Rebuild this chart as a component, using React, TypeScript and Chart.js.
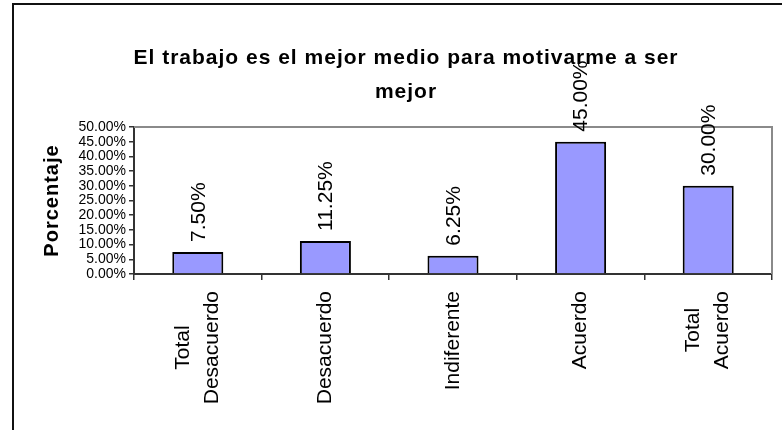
import React, { useEffect, useRef } from "react";
import { Chart, registerables } from "chart.js";

Chart.register(...registerables);

const FONT = '"Liberation Sans", Arial, Helvetica, sans-serif';

const TITLE_LINES = ["El trabajo es el mejor medio para motivarme a ser", "mejor"];
const Y_TITLE = "Porcentaje";
const CATEGORIES: string[][] = [
  ["Total", "Desacuerdo"],
  ["Desacuerdo"],
  ["Indiferente"],
  ["Acuerdo"],
  ["Total", "Acuerdo"],
];
const VALUES = [7.5, 11.25, 6.25, 45, 30];
const Y_MIN = 0;
const Y_MAX = 50;
const Y_STEP = 5;

const fmtPct = (v: number) => v.toFixed(2) + "%";

const decorPlugin = {
  id: "decor",
  beforeDraw(chart: any) {
    const ctx = chart.ctx;
    ctx.save();
    ctx.fillStyle = "#ffffff";
    ctx.fillRect(0, 0, chart.width, chart.height);
    ctx.restore();
  },
  beforeDatasetsDraw(chart: any) {
    const ctx = chart.ctx;
    const { left, right, top, bottom } = chart.chartArea;
    ctx.save();
    ctx.strokeStyle = "#8a8a8a";
    ctx.lineWidth = 2;
    ctx.beginPath();
    ctx.moveTo(left, top);
    ctx.lineTo(right, top);
    ctx.lineTo(right, bottom);
    ctx.stroke();
    ctx.restore();
  },
  afterDatasetsDraw(chart: any) {
    const ctx = chart.ctx;
    const { top, bottom } = chart.chartArea;
    const xScale = chart.scales.x;
    ctx.save();
    // outer frame (top and left edges)
    ctx.strokeStyle = "#111";
    ctx.lineWidth = 2;
    ctx.beginPath();
    ctx.moveTo(13, chart.height);
    ctx.lineTo(13, 4);
    ctx.lineTo(chart.width, 4);
    ctx.stroke();

    ctx.fillStyle = "#000";
    // title
    ctx.font = "bold 21px " + FONT;
    (ctx as any).letterSpacing = "1px";
    ctx.textAlign = "center";
    ctx.textBaseline = "alphabetic";
    ctx.fillText(TITLE_LINES[0], 406, 64);
    ctx.fillText(TITLE_LINES[1], 406, 98);

    // y axis title
    ctx.save();
    ctx.font = "bold 20px " + FONT;
    ctx.translate(52, (top + bottom) / 2);
    ctx.rotate(-Math.PI / 2);
    ctx.textAlign = "center";
    ctx.textBaseline = "middle";
    ctx.fillText(Y_TITLE, 0, 0);
    ctx.restore();
    (ctx as any).letterSpacing = "0px";

    // category labels (rotated, multi-line centred)
    ctx.font = "21px " + FONT;
    const lineH = 29;
    CATEGORIES.forEach((lines, i) => {
      const x = xScale.getPixelForValue(i);
      const w = Math.max(...lines.map((l) => ctx.measureText(l).width));
      ctx.save();
      ctx.translate(x, bottom + 17 + w / 2);
      ctx.rotate(-Math.PI / 2);
      ctx.textAlign = "center";
      ctx.textBaseline = "middle";
      lines.forEach((l, j) => {
        ctx.fillText(l, 0, (j - (lines.length - 1) / 2) * lineH);
      });
      ctx.restore();
    });

    // data labels
    const meta = chart.getDatasetMeta(0);
    meta.data.forEach((bar: any, i: number) => {
      ctx.save();
      ctx.translate(bar.x, bar.y - 10);
      ctx.rotate(-Math.PI / 2);
      ctx.textAlign = "left";
      ctx.textBaseline = "middle";
      ctx.fillText(fmtPct(VALUES[i]), 0, 1);
      ctx.restore();
    });
    ctx.restore();
  },
};

export default function App() {
  const ref = useRef<HTMLCanvasElement | null>(null);
  useEffect(() => {
    document.body.style.margin = "0";
    const canvas = ref.current;
    if (!canvas) return;
    Chart.defaults.font.family = FONT;
    const chart = new Chart(canvas, {
      type: "bar",
      data: {
        labels: CATEGORIES.map((c) => c.join(" ")),
        datasets: [
          {
            data: VALUES,
            backgroundColor: "#9999ff",
            borderColor: "#000000",
            borderWidth: 2,
            barPercentage: 0.4,
            categoryPercentage: 1,
          },
        ],
      },
      options: {
        responsive: false,
        animation: false,
        devicePixelRatio: 1,
        layout: { padding: { left: 0, right: 10, top: 127, bottom: 0 } },
        plugins: {
          legend: { display: false },
          title: { display: false },
          tooltip: { enabled: false },
        },
        scales: {
          x: {
            type: "category",
            offset: true,
            grid: {
              display: true,
              offset: true,
              drawOnChartArea: false,
              drawTicks: true,
              tickLength: 6,
              color: "#333",
              lineWidth: 1.5,
            },
            border: { display: true, color: "#333", width: 2 },
            ticks: { display: false },
            afterFit: (scale: any) => {
              scale.height = 156;
            },
          },
          y: {
            min: Y_MIN,
            max: Y_MAX,
            grid: {
              display: true,
              drawOnChartArea: false,
              drawTicks: true,
              tickLength: 5,
              color: "#333",
              lineWidth: 1.5,
            },
            border: { display: true, color: "#333", width: 2 },
            ticks: {
              stepSize: Y_STEP,
              autoSkip: false,
              padding: 3,
              color: "#000",
              font: { size: 14, family: FONT },
              callback: (v: any) => fmtPct(Number(v)),
            },
            afterFit: (scale: any) => {
              scale.width = 134;
            },
          },
        },
      },
      plugins: [decorPlugin],
    });
    return () => chart.destroy();
  }, []);
  return (
    <div style={{ width: 782, height: 430, position: "relative" }}>
      <canvas ref={ref} width={782} height={430} style={{ display: "block" }} />
    </div>
  );
}
